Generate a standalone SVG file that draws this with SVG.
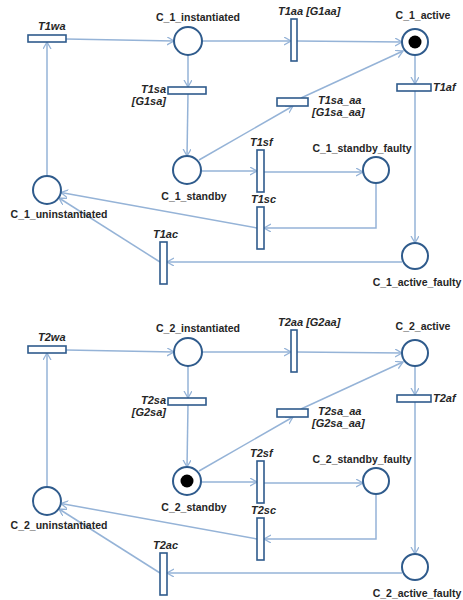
<svg xmlns="http://www.w3.org/2000/svg" width="463" height="600" viewBox="0 0 463 600">
<defs>
<marker id="ah" markerUnits="userSpaceOnUse" markerWidth="10" markerHeight="10" refX="7" refY="4" orient="auto">
<path d="M0,0 L7,4 L0,8" fill="none" stroke="#95b3d7" stroke-width="1.3"/>
</marker>
</defs>
<style>
.place{fill:#fff;stroke:#2f5b8c;stroke-width:2}
.trans{fill:#fff;stroke:#2f5b8c;stroke-width:1.6}
.tok{fill:#000}
.arc{fill:none;stroke:#95b3d7;stroke-width:1.5}
.arr{marker-end:url(#ah)}
.pl{font-family:"Liberation Sans",Arial,sans-serif;font-size:10.5px;font-weight:bold;fill:#262626;text-anchor:middle}
.tl{font-family:"Liberation Sans",Arial,sans-serif;font-size:11px;font-weight:bold;font-style:italic;fill:#262626}
</style>
<rect width="463" height="600" fill="#fff"/>

<!-- ========== Net 1 ========== -->
<g id="net1">
<g id="arcs1">
<path class="arc arr" d="M66,39 L174,41"/>
<path class="arc arr" d="M47,176 L47,42"/>
<path class="arc arr" d="M202,41 L291,41"/>
<path class="arc arr" d="M297,41 L402,42"/>
<path class="arc arr" d="M415,55 L415,84"/>
<path class="arc arr" d="M415,91 L415,243"/>
<path class="arc arr" d="M402,262 L167,262"/>
<path class="arc arr" d="M160,262 L59,198"/>
<path class="arc arr" d="M188,55 L188,87"/>
<path class="arc arr" d="M188,94 L187,156"/>
<path class="arc arr" d="M201,171 L257,171"/>
<path class="arc arr" d="M264,172 L363,172"/>
<path class="arc arr" d="M376,183 L376,228 L264,228"/>
<path class="arc arr" d="M257,228 L61,192.5"/>
<path class="arc arr" d="M199,160 L293,106"/>
<path class="arc arr" d="M301,98 L403,51"/>
</g>
<g id="C_1_instantiated"><circle class="place" cx="188" cy="41" r="14"/><text class="pl" x="198" y="21">C_1_instantiated</text></g>
<g id="C_1_active"><circle class="place" cx="415" cy="42" r="13"/><circle class="tok" cx="415" cy="42" r="6.5"/><text class="pl" x="423" y="19">C_1_active</text></g>
<g id="C_1_standby"><circle class="place" cx="187" cy="170" r="14"/><text class="pl" x="194" y="200">C_1_standby</text></g>
<g id="C_1_standby_faulty"><circle class="place" cx="376" cy="170" r="13"/><text class="pl" x="362" y="152">C_1_standby_faulty</text></g>
<g id="C_1_active_faulty"><circle class="place" cx="415" cy="256" r="13"/><text class="pl" x="417" y="286">C_1_active_faulty</text></g>
<g id="C_1_uninstantiated"><circle class="place" cx="47" cy="190" r="14"/><text class="pl" x="59" y="218">C_1_uninstantiated</text></g>
<g id="T1wa"><rect class="trans" x="28" y="35" width="38" height="7"/><text class="tl" x="38" y="30">T1wa</text></g>
<g id="T1aa"><rect class="trans" x="291" y="19" width="6" height="42"/><text class="tl" x="278" y="15">T1aa [G1aa]</text></g>
<g id="T1af"><rect class="trans" x="397" y="84" width="34" height="7"/><text class="tl" x="433" y="91">T1af</text></g>
<g id="T1sa"><rect class="trans" x="168" y="87" width="38" height="7"/><text class="tl" x="166" y="93" text-anchor="end">T1sa</text><text class="tl" x="166" y="105" text-anchor="end">[G1sa]</text></g>
<g id="T1sa_aa"><rect class="trans" x="277" y="98" width="31" height="8"/><text class="tl" x="318" y="104">T1sa_aa</text><text class="tl" x="312" y="116">[G1sa_aa]</text></g>
<g id="T1sf"><rect class="trans" x="257" y="150" width="7" height="42"/><text class="tl" x="250" y="146">T1sf</text></g>
<g id="T1sc"><rect class="trans" x="257" y="207" width="7" height="42"/><text class="tl" x="251" y="203">T1sc</text></g>
<g id="T1ac"><rect class="trans" x="160" y="242" width="7" height="42"/><text class="tl" x="153" y="238">T1ac</text></g>
</g>

<!-- ========== Net 2 ========== -->
<g id="net2" transform="translate(0,311)">
<g id="arcs2">
<path class="arc arr" d="M66,39 L174,41"/>
<path class="arc arr" d="M47,176 L47,42"/>
<path class="arc arr" d="M202,41 L291,41"/>
<path class="arc arr" d="M297,41 L402,42"/>
<path class="arc arr" d="M415,55 L415,84"/>
<path class="arc arr" d="M415,91 L415,243"/>
<path class="arc arr" d="M402,262 L167,262"/>
<path class="arc arr" d="M160,262 L59,198"/>
<path class="arc arr" d="M188,55 L188,87"/>
<path class="arc arr" d="M188,94 L187,156"/>
<path class="arc arr" d="M201,171 L257,171"/>
<path class="arc arr" d="M264,172 L363,172"/>
<path class="arc arr" d="M376,183 L376,228 L264,228"/>
<path class="arc arr" d="M257,228 L61,192.5"/>
<path class="arc arr" d="M199,160 L293,106"/>
<path class="arc arr" d="M301,98 L403,51"/>
</g>
<g id="C_2_instantiated"><circle class="place" cx="188" cy="41" r="14"/><text class="pl" x="198" y="21">C_2_instantiated</text></g>
<g id="C_2_active"><circle class="place" cx="415" cy="42" r="13"/><text class="pl" x="423" y="19">C_2_active</text></g>
<g id="C_2_standby"><circle class="place" cx="187" cy="170" r="14"/><circle class="tok" cx="187" cy="170" r="6.5"/><text class="pl" x="194" y="200">C_2_standby</text></g>
<g id="C_2_standby_faulty"><circle class="place" cx="376" cy="170" r="13"/><text class="pl" x="362" y="152">C_2_standby_faulty</text></g>
<g id="C_2_active_faulty"><circle class="place" cx="415" cy="256" r="13"/><text class="pl" x="417" y="286">C_2_active_faulty</text></g>
<g id="C_2_uninstantiated"><circle class="place" cx="47" cy="190" r="14"/><text class="pl" x="59" y="218">C_2_uninstantiated</text></g>
<g id="T2wa"><rect class="trans" x="28" y="35" width="38" height="7"/><text class="tl" x="38" y="30">T2wa</text></g>
<g id="T2aa"><rect class="trans" x="291" y="19" width="6" height="42"/><text class="tl" x="278" y="15">T2aa [G2aa]</text></g>
<g id="T2af"><rect class="trans" x="397" y="84" width="34" height="7"/><text class="tl" x="433" y="91">T2af</text></g>
<g id="T2sa"><rect class="trans" x="168" y="87" width="38" height="7"/><text class="tl" x="166" y="93" text-anchor="end">T2sa</text><text class="tl" x="166" y="105" text-anchor="end">[G2sa]</text></g>
<g id="T2sa_aa"><rect class="trans" x="277" y="98" width="31" height="8"/><text class="tl" x="318" y="104">T2sa_aa</text><text class="tl" x="312" y="116">[G2sa_aa]</text></g>
<g id="T2sf"><rect class="trans" x="257" y="150" width="7" height="42"/><text class="tl" x="250" y="146">T2sf</text></g>
<g id="T2sc"><rect class="trans" x="257" y="207" width="7" height="42"/><text class="tl" x="251" y="203">T2sc</text></g>
<g id="T2ac"><rect class="trans" x="160" y="242" width="7" height="42"/><text class="tl" x="153" y="238">T2ac</text></g>
</g>
</svg>
